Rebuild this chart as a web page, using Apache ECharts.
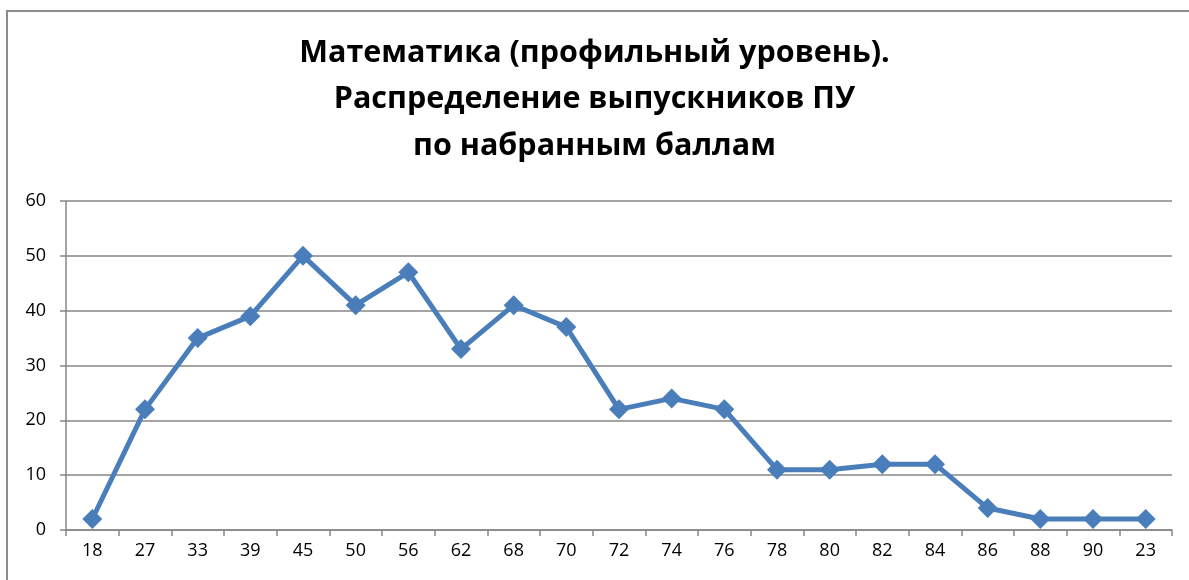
<!DOCTYPE html>
<html><head><meta charset="utf-8">
<script src="https://cdn.jsdelivr.net/npm/echarts@6/dist/echarts.min.js"></script>
<style>html,body{margin:0;padding:0;background:#fff}#c{width:1189px;height:580px}</style>
</head><body><div id="c"></div>
<script>
const categories = ['18','27','33','39','45','50','56','62','68','70','72','74','76','78','80','82','84','86','88','90','23'];
const values = [2,22,35,39,50,41,47,33,41,37,22,24,22,11,11,12,12,4,2,2,2];
const titleText = 'Математика (профильный уровень).\nРаспределение выпускников ПУ\nпо набранным баллам';
const yTicks = {min:0, max:60, interval:10};

const chart = echarts.init(document.getElementById('c'), null, {renderer:'canvas'});
const font = '"Open Sans", "Noto Sans", sans-serif';
chart.setOption({
  animation:false,
  backgroundColor:'#fff',
  graphic:[{type:'rect', shape:{x:7,y:11,width:1300,height:700}, style:{fill:'none', stroke:'#8c8c8c', lineWidth:2}, z:-1}],
  title:{text:titleText, left:'center', top:25,
    textStyle:{fontFamily:font, fontSize:30.5, fontWeight:'bold', color:'#000', lineHeight:46.5}},
  grid:{left:66, right:17, top:201, bottom:50},
  xAxis:{type:'category', data:categories, boundaryGap:true,
    axisLine:{lineStyle:{color:'#868686', width:1.5}},
    axisTick:{show:true, interval:0, length:6, lineStyle:{color:'#868686', width:1.5}},
    axisLabel:{color:'#000', fontSize:18, fontFamily:font, margin:12, interval:0},
    splitLine:{show:false}},
  yAxis:{type:'value', min:yTicks.min, max:yTicks.max, interval:yTicks.interval,
    axisLine:{show:true, lineStyle:{color:'#868686', width:1.5}},
    axisTick:{show:true, length:6, lineStyle:{color:'#868686', width:1.5}},
    axisLabel:{color:'#000', fontSize:18, fontFamily:font, margin:20},
    splitLine:{lineStyle:{color:'#868686', width:1.5}}},
  series:[{type:'line', data:values, symbol:'diamond', symbolSize:20,
    lineStyle:{color:'#4A7EBB', width:5}, itemStyle:{color:'#4A7EBB'}}]
});
</script></body></html>
